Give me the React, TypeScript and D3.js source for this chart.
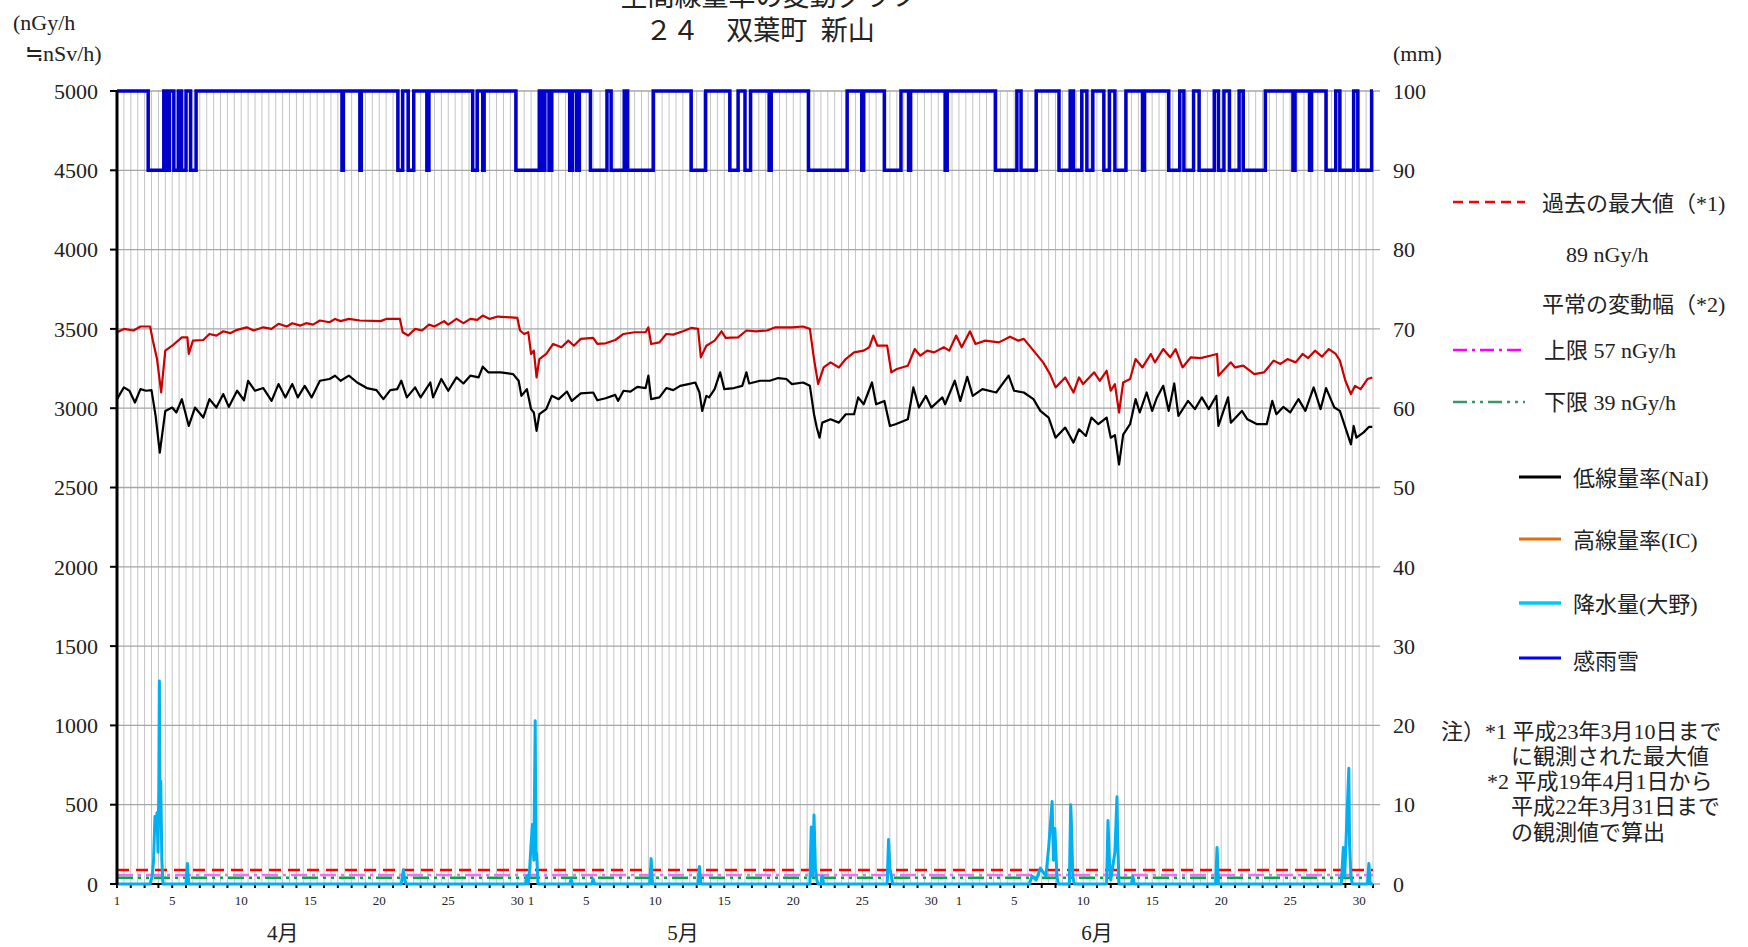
import React from "react";
import * as d3 from "d3";

// axis / calendar
const months = ["4月", "5月", "6月"];
const monthDays = [30, 31, 30];
const dayLabels = [1, 5, 10, 15, 20, 25, 30];
const doseTicks = [0, 500, 1000, 1500, 2000, 2500, 3000, 3500, 4000, 4500, 5000];
const rainTicks = [0, 10, 20, 30, 40, 50, 60, 70, 80, 90, 100];

// reference levels (nGy/h)
const pastMax = 89;
const upperLimit = 57;
const lowerLimit = 39;

// [days since 4/1 0:00, nGy/h]
const nai: [number, number][] = [
  [0, 3057], [0.5, 3131], [0.9, 3110], [1.3, 3036], [1.7, 3120], [2.1, 3110], [2.5, 3114], [2.8, 2950],
  [3.1, 2720], [3.5, 2983], [4.0, 3004], [4.3, 2973], [4.7, 3057], [5.2, 2888], [5.65, 3004], [6.25, 2941],
  [6.7, 3057], [7.2, 3004], [7.7, 3089], [8.1, 3008], [8.7, 3110], [9.2, 3050], [9.5, 3173], [10, 3110],
  [10.6, 3127], [11.2, 3046], [11.7, 3152], [12.2, 3068], [12.7, 3152], [13.1, 3068], [13.6, 3141], [14.1, 3068],
  [14.7, 3173], [15.4, 3184], [15.8, 3205], [16.2, 3173], [16.8, 3205], [17.4, 3162], [18.1, 3127], [18.8, 3114],
  [19.3, 3057], [19.8, 3114], [20.3, 3120], [20.6, 3173], [21.0, 3068], [21.6, 3131], [22.0, 3068], [22.7, 3162],
  [22.9, 3068], [23.5, 3184], [24.0, 3110], [24.6, 3194], [25.1, 3156], [25.6, 3205], [26.2, 3194], [26.5, 3262],
  [26.9, 3226], [27.8, 3226], [28.7, 3215], [29.1, 3173], [29.3, 3078], [29.7, 3120], [30.0, 2994], [30.2, 2973],
  [30.4, 2857], [30.6, 2962], [31.1, 2994], [31.5, 3078], [32.0, 3057], [32.6, 3105], [32.95, 3046], [33.6, 3093],
  [34.5, 3099], [34.8, 3050], [35.4, 3063], [36.1, 3084], [36.3, 3046], [36.7, 3110], [37.2, 3105], [37.7, 3135],
  [38.3, 3127], [38.5, 3205], [38.7, 3057], [39.3, 3068], [39.8, 3127], [40.3, 3114], [40.8, 3141], [41.4, 3152],
  [41.9, 3162], [42.2, 3099], [42.4, 2983], [42.7, 3078], [42.9, 3068], [43.3, 3120], [43.7, 3226], [44.0, 3120],
  [44.7, 3127], [45.3, 3141], [45.6, 3226], [45.8, 3156], [46.6, 3173], [47.3, 3173], [47.9, 3190], [48.5, 3184],
  [48.9, 3152], [49.7, 3162], [50.2, 3141], [50.5, 2962], [50.7, 2878], [50.9, 2814], [51.1, 2909], [51.7, 2930],
  [52.3, 2909], [52.8, 2962], [53.4, 2962], [53.7, 3068], [54.1, 3025], [54.7, 3162], [55.0, 3025], [55.6, 3046],
  [56.0, 2888], [56.4, 2899], [57.3, 2930], [57.7, 3131], [58.1, 3004], [58.6, 3078], [59.0, 3004], [59.8, 3068],
  [60.0, 3025], [60.7, 3173], [61.1, 3046], [61.6, 3198], [62.0, 3078], [62.7, 3120], [63.7, 3099], [64.6, 3205],
  [65.0, 3110], [65.7, 3099], [66.4, 3057], [66.9, 2983], [67.5, 2941], [68.0, 2814], [68.7, 2878], [69.3, 2783],
  [69.7, 2867], [70.2, 2825], [70.6, 2941], [71.1, 2899], [71.7, 2941], [72.0, 2814], [72.3, 2830], [72.6, 2645],
  [72.9, 2834], [73.4, 2899], [73.8, 3057], [74.1, 2973], [74.6, 3099], [75.0, 2983], [75.35, 3068], [75.8, 3141],
  [76.2, 2983], [76.6, 3156], [76.9, 2951], [77.6, 3046], [78.1, 2994], [78.6, 3068], [79.1, 2994], [79.65, 3078],
  [79.8, 2888], [80.5, 3068], [80.7, 2909], [81.5, 2983], [81.9, 2930], [82.6, 2899], [83.3, 2899], [83.7, 3046],
  [84.0, 2962], [84.5, 3008], [85.0, 2973], [85.6, 3057], [86.1, 2983], [86.7, 3131], [87.2, 2994], [87.6, 3127],
  [88.2, 3004], [88.6, 2983], [89.0, 2878], [89.4, 2772], [89.6, 2888], [89.8, 2814], [90.3, 2846], [90.7, 2882],
  [90.95, 2882],
];

const ic: [number, number][] = [
  [0, 3479], [0.5, 3500], [1.2, 3490], [1.7, 3515], [2.4, 3515], [2.6, 3426], [2.9, 3310], [3.2, 3100],
  [3.5, 3363], [4.0, 3394], [4.7, 3447], [5.1, 3447], [5.2, 3342], [5.5, 3426], [6.25, 3430], [6.7, 3468],
  [7.2, 3458], [7.7, 3485], [8.2, 3473], [8.7, 3494], [9.4, 3510], [9.9, 3490], [10.6, 3510], [11.2, 3500],
  [11.7, 3532], [12.3, 3515], [12.7, 3536], [13.3, 3521], [13.7, 3536], [14.2, 3527], [14.7, 3553], [15.4, 3542],
  [15.8, 3563], [16.2, 3549], [16.8, 3563], [17.6, 3553], [19.1, 3549], [19.5, 3563], [20.5, 3563], [20.7, 3479],
  [21.1, 3458], [21.6, 3500], [22.1, 3490], [22.6, 3527], [23.0, 3515], [23.7, 3549], [24.0, 3527], [24.6, 3563],
  [25.1, 3536], [25.6, 3563], [26.1, 3557], [26.5, 3584], [27.0, 3563], [27.6, 3578], [29.0, 3570], [29.2, 3490],
  [29.5, 3468], [29.8, 3479], [30.0, 3342], [30.2, 3363], [30.4, 3194], [30.6, 3310], [31.1, 3342], [31.6, 3405],
  [32.2, 3384], [32.7, 3426], [33.1, 3394], [33.6, 3437], [34.5, 3443], [34.8, 3405], [35.4, 3409], [36.1, 3430],
  [36.7, 3468], [37.5, 3479], [38.3, 3479], [38.5, 3510], [38.7, 3405], [39.3, 3415], [39.8, 3468], [40.3, 3464],
  [41.0, 3485], [41.6, 3506], [42.1, 3500], [42.3, 3321], [42.7, 3394], [43.3, 3426], [43.8, 3485], [44.1, 3443],
  [45.0, 3447], [45.6, 3490], [46.3, 3485], [47.1, 3490], [47.7, 3510], [48.9, 3510], [49.7, 3515], [50.2, 3500],
  [50.5, 3310], [50.8, 3152], [51.2, 3257], [51.7, 3289], [52.3, 3257], [52.8, 3310], [53.4, 3352], [54.1, 3363],
  [54.5, 3384], [54.8, 3458], [55.1, 3394], [55.8, 3394], [56.1, 3226], [56.5, 3247], [57.3, 3268], [57.8, 3373],
  [58.2, 3331], [58.7, 3363], [59.2, 3352], [59.9, 3384], [60.3, 3363], [60.8, 3458], [61.2, 3384], [61.8, 3485],
  [62.2, 3405], [62.9, 3426], [63.9, 3415], [64.7, 3451], [65.3, 3426], [65.7, 3437], [66.4, 3363], [67.1, 3289],
  [67.6, 3215], [68.0, 3131], [68.7, 3194], [69.3, 3099], [69.7, 3194], [70.0, 3152], [70.8, 3226], [71.2, 3173],
  [71.7, 3236], [72.0, 3110], [72.3, 3152], [72.6, 2973], [72.9, 3162], [73.4, 3184], [73.8, 3310], [74.3, 3257],
  [74.9, 3342], [75.2, 3289], [75.8, 3373], [76.3, 3321], [76.7, 3373], [77.2, 3257], [77.8, 3321], [78.5, 3316],
  [79.2, 3331], [79.7, 3342], [79.8, 3205], [80.7, 3289], [81.0, 3257], [81.6, 3268], [82.4, 3215], [83.1, 3226],
  [83.4, 3257], [83.8, 3300], [84.3, 3279], [84.8, 3310], [85.4, 3289], [85.9, 3342], [86.3, 3316], [86.8, 3363],
  [87.3, 3325], [87.8, 3373], [88.3, 3342], [88.6, 3300], [89.0, 3173], [89.4, 3089], [89.7, 3141], [90.1, 3120],
  [90.6, 3184], [90.95, 3194],
];

// [days, mm]
const rain: [number, number][] = [
  [0, 0], [2.4, 0], [2.55, 1], [2.65, 3], [2.75, 8.5], [2.82, 7], [2.9, 9], [2.97, 4], [3.03, 12], [3.07, 25.6],
  [3.12, 8], [3.17, 13], [3.25, 3], [3.33, 0],
  [5.0, 0], [5.1, 2.6], [5.2, 0],
  [20.6, 0], [20.75, 1.8], [20.85, 0.5], [20.95, 0],
  [29.6, 0], [29.7, 1], [29.8, 0], [29.9, 2], [30.0, 5], [30.1, 7.5], [30.2, 3], [30.3, 20.6], [30.35, 4],
  [30.4, 3.9], [30.5, 0],
  [32.8, 0], [32.9, 0.6], [33.0, 0], [34.4, 0], [34.5, 0.6], [34.6, 0],
  [38.6, 0], [38.7, 3.2], [38.8, 0],
  [42.1, 0], [42.2, 2.2], [42.3, 0],
  [50.2, 0], [50.3, 7.2], [50.4, 1], [50.5, 8.7], [50.6, 2], [50.7, 0.5], [50.8, 0],
  [51.0, 0], [51.1, 1], [51.2, 0],
  [55.8, 0], [55.9, 5.6], [56.0, 2], [56.1, 1], [56.2, 0],
  [66.1, 0], [66.3, 1], [66.6, 0.5], [66.9, 2], [67.3, 1], [67.5, 4.6], [67.75, 10.4], [67.85, 3], [67.95, 7],
  [68.1, 1], [68.2, 0],
  [69.0, 0], [69.1, 10], [69.15, 7.6], [69.25, 1], [69.35, 0],
  [71.7, 0], [71.8, 8], [71.9, 3], [72.0, 0.5], [72.3, 4], [72.45, 11], [72.5, 5.6], [72.6, 0],
  [73.5, 0], [73.6, 1], [73.7, 0],
  [79.6, 0], [79.7, 4.6], [79.8, 0],
  [88.7, 0], [88.85, 4.6], [88.95, 1], [89.25, 14.6], [89.3, 5], [89.4, 1], [89.5, 0],
  [90.6, 0], [90.7, 2.6], [90.8, 0], [91, 0],
];

// 感雨雪 on-intervals [start, end] in days
const sensorOn: [number, number][] = [
  [2.26, 3.39], [3.55, 3.8], [4.12, 4.44], [4.68, 5.0], [5.33, 5.73],
  [16.3, 16.4], [17.6, 17.7], [20.35, 20.7], [21.1, 21.5], [22.45, 22.6],
  [25.77, 26.1], [26.5, 26.6], [28.9, 30.6], [30.78, 31.0], [31.3, 31.5],
  [32.8, 33.0], [33.3, 33.5], [34.3, 35.5], [35.8, 36.75], [37.0, 38.85],
  [41.6, 42.65], [44.4, 45.0], [45.5, 45.9], [47.25, 47.4], [50.1, 52.9],
  [53.96, 54.1], [55.6, 56.8], [57.35, 57.5], [60.0, 60.15], [63.65, 65.2],
  [65.5, 66.6], [68.25, 69.06], [69.3, 69.9], [70.27, 70.7], [71.5, 71.9],
  [72.3, 73.1], [74.3, 74.45], [76.2, 77.0], [77.3, 78.0], [78.4, 79.5],
  [79.8, 80.2], [80.6, 81.3], [81.6, 83.2], [85.2, 85.35], [86.4, 86.55],
  [87.6, 88.3], [88.6, 89.6], [89.9, 90.9],
];

const font = '"Liberation Serif", "Noto Sans CJK JP", serif';

export default function App() {
  const W = 1748;
  const H = 947;
  const L = 117, R = 1373, T = 91, B = 884;
  const totalDays = d3.sum(monthDays);
  const offsets = monthDays.map((_, i) => d3.sum(monthDays.slice(0, i)));

  const x = d3.scaleLinear().domain([0, totalDays]).range([L, R]);
  const y = d3.scaleLinear().domain([0, 5000]).range([B, T]);
  const yR = d3.scaleLinear().domain([0, 100]).range([B, T]);

  const doseLine = d3.line<[number, number]>().x((d) => x(d[0])).y((d) => y(d[1]));
  const rainLine = d3.line<[number, number]>().x((d) => x(d[0])).y((d) => yR(d[1]));

  const sensorPts: [number, number][] = [[0, 100]];
  sensorOn.forEach(([s, e]) => {
    sensorPts.push([s, 100], [s, 90], [e, 90], [e, 100]);
  });
  sensorPts.push([totalDays, 100]);

  const halfDays = d3.range(0, totalDays * 2 + 1).map((i) => i / 2);
  const days = d3.range(0, totalDays + 1);

  const refLines = [
    { v: pastMax, color: "#ff0000", dash: "12 7" },
    { v: upperLimit, color: "#ff66ff", dash: "16 5 3 5" },
    { v: lowerLimit, color: "#00a850", dash: "16 5 3 5 3 5" },
  ];

  return (
    <svg
      width={W}
      height={H}
      style={{ position: "absolute", left: 0, top: 0, background: "#fff" }}
      fontFamily={font}
    >
      <rect width={W} height={H} fill="#fff" />
      {/* title (first line is cropped at the top edge, as in the source image) */}
      <text x={769} y={6} fontSize={27} textAnchor="middle" fill="#222">空間線量率の変動グラフ</text>
      <text x={760} y={40} fontSize={27} textAnchor="middle" fill="#222" xmlSpace="preserve">２４　双葉町{"\u2002"}新山</text>

      {/* grid */}
      {halfDays.map((t) => (
        <line key={"v" + t} x1={x(t)} x2={x(t)} y1={T} y2={B} stroke="#c4c4c4" strokeWidth={1} />
      ))}
      {doseTicks.map((v) => (
        <line key={"h" + v} x1={L} x2={R + 7} y1={y(v)} y2={y(v)} stroke="#a6a6a6" strokeWidth={1.3} />
      ))}

      {/* reference levels */}
      {refLines.map((r) => (
        <line key={r.v} x1={L} x2={R} y1={y(r.v)} y2={y(r.v)} stroke={r.color} strokeWidth={2.5} strokeDasharray={r.dash} />
      ))}

      {/* dose rate */}
      <path d={doseLine(ic) || ""} fill="none" stroke="#cc0000" strokeWidth={2.2} strokeLinejoin="round" />
      <path d={doseLine(nai) || ""} fill="none" stroke="#000" strokeWidth={2.2} strokeLinejoin="round" />

      {/* axes */}
      <line x1={L} x2={R} y1={B} y2={B} stroke="#000" strokeWidth={2} />
      {days.map((t) => (
        <line key={"dt" + t} x1={x(t)} x2={x(t)} y1={B} y2={B + 4} stroke="#000" strokeWidth={2} />
      ))}

      {/* rain */}
      <path d={rainLine(rain) || ""} fill="none" stroke="#00b0f0" strokeWidth={3} strokeLinejoin="round" />
      {/* rain sensor */}
      <path d={rainLine(sensorPts) || ""} fill="none" stroke="#0000cc" strokeWidth={3.5} />

      <line x1={L} x2={L} y1={T} y2={B + 1} stroke="#000" strokeWidth={3} />
      {doseTicks.map((v) => (
        <line key={"lt" + v} x1={L - 7} x2={L} y1={y(v)} y2={y(v)} stroke="#000" strokeWidth={2} />
      ))}

      {/* tick labels */}
      {doseTicks.map((v) => (
        <text key={"lv" + v} x={98} y={y(v)} dy="0.35em" fontSize={22} textAnchor="end" fill="#222">{v}</text>
      ))}
      {rainTicks.map((v) => (
        <text key={"rv" + v} x={1393} y={yR(v)} dy="0.35em" fontSize={22} fill="#222">{v}</text>
      ))}
      {months.map((m, i) =>
        dayLabels.filter((d) => d <= monthDays[i]).map((d) => (
          <text key={m + d} x={x(offsets[i] + d - 1)} y={905} fontSize={13} textAnchor="middle" fill="#222">{d}</text>
        ))
      )}
      {months.map((m, i) => (
        <text key={m} x={x(offsets[i] + 12 - i)} y={933} dy="0.35em" fontSize={21} textAnchor="middle" fill="#222">{m}</text>
      ))}

      {/* units */}
      <text x={13} y={22} dy="0.35em" fontSize={22} fill="#222">(nGy/h</text>
      <text x={25} y={53} dy="0.35em" fontSize={22} fill="#222">≒nSv/h)</text>
      <text x={1393} y={53} dy="0.35em" fontSize={22} fill="#222">(mm)</text>

      {/* legend */}
      <g fontSize={22} fill="#222">
        <line x1={1453} x2={1525} y1={202} y2={202} stroke="#ff0000" strokeWidth={2.5} strokeDasharray="10 6" />
        <text x={1542} y={203} dy="0.35em">過去の最大値（*1)</text>
        <text x={1566} y={254} dy="0.35em">{pastMax} nGy/h</text>
        <text x={1542} y={304} dy="0.35em">平常の変動幅（*2)</text>
        <line x1={1453} x2={1525} y1={350} y2={350} stroke="#ff00ff" strokeWidth={2.5} strokeDasharray="14 5 3 5" />
        <text x={1544} y={350} dy="0.35em">上限 {upperLimit} nGy/h</text>
        <line x1={1453} x2={1525} y1={402} y2={402} stroke="#339966" strokeWidth={2.5} strokeDasharray="14 5 3 5 3 5" />
        <text x={1544} y={402} dy="0.35em">下限 {lowerLimit} nGy/h</text>

        <line x1={1519} x2={1561} y1={477} y2={477} stroke="#000" strokeWidth={3} />
        <text x={1573} y={478} dy="0.35em">低線量率(NaI)</text>
        <line x1={1519} x2={1561} y1={539} y2={539} stroke="#e46c0a" strokeWidth={3} />
        <text x={1573} y={540} dy="0.35em">高線量率(IC)</text>
        <line x1={1519} x2={1561} y1={603} y2={603} stroke="#00c8f8" strokeWidth={3.5} />
        <text x={1573} y={604} dy="0.35em">降水量(大野)</text>
        <line x1={1519} x2={1561} y1={658} y2={658} stroke="#0000ff" strokeWidth={3} />
        <text x={1573} y={661} dy="0.35em">感雨雪</text>
      </g>

      {/* notes */}
      <g fontSize={22} fill="#222">
        <text x={1441} y={739}>注）*1 平成23年3月10日まで</text>
        <text x={1511} y={764}>に観測された最大値</text>
        <text x={1487} y={789}>*2 平成19年4月1日から</text>
        <text x={1511} y={814}>平成22年3月31日まで</text>
        <text x={1511} y={840}>の観測値で算出</text>
      </g>
    </svg>
  );
}
